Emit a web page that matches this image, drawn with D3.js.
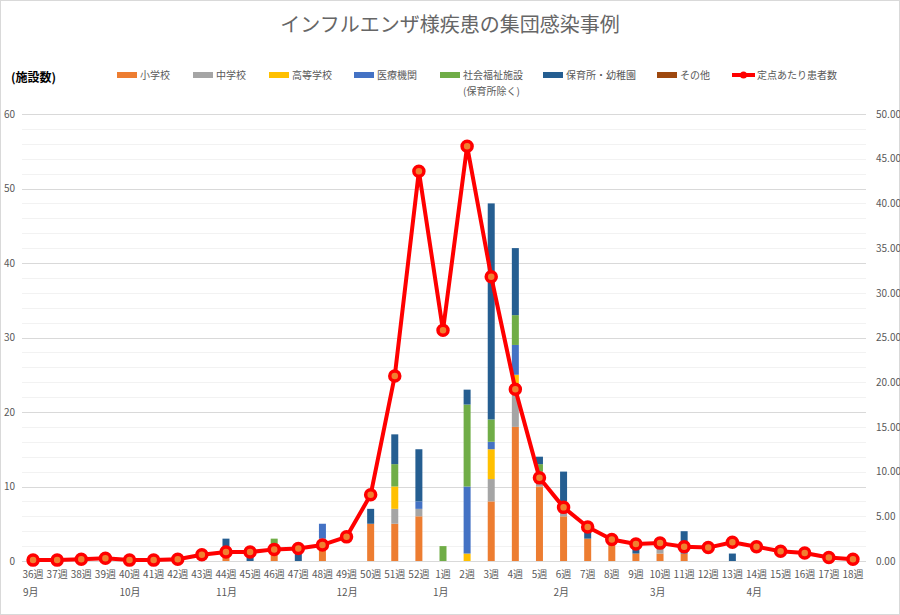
<!DOCTYPE html>
<html>
<head>
<meta charset="utf-8">
<script src="https://cdn.jsdelivr.net/npm/d3@7"></script>
<style>
  body { margin: 0; background: #fff; }
  svg text { font-family: "Noto Sans CJK JP", "Noto Sans", sans-serif; }
</style>
</head>
<body>
<svg id="svg0" width="900" height="615"></svg>
<script>
var weeks = ['36週','37週','38週','39週','40週','41週','42週','43週','44週','45週','46週','47週','48週','49週','50週','51週','52週',
  '1週','2週','3週','4週','5週','6週','7週','8週','9週','10週','11週','12週','13週','14週','15週','16週','17週','18週'];
var monthWeeks = ['36週','40週','44週','49週','1週','6週','10週','14週'];
var monthLabels = ['9月','10月','11月','12月','1月','2月','3月','4月'];

var seriesNames = ['小学校','中学校','高等学校','医療機関','社会福祉施設','保育所・幼稚園','その他'];
var seriesColors = ['#ED7D31','#A5A5A5','#FFC000','#4472C4','#70AD47','#255E91','#9E480E'];

//            36 37 38 39 40 41 42 43 44 45 46 47 48 49 50 51 52  1  2  3  4  5  6  7  8  9 10 11 12 13 14 15 16 17 18
var shogakko = [0, 0, 0, 0, 0, 0, 0, 0, 1, 0, 1, 0, 3, 0, 5, 5, 6, 0, 0, 8,18,10, 6, 3, 3, 1, 1, 1, 0, 0, 0, 0, 0, 0, 0];
var chugakko = [0, 0, 0, 0, 0, 0, 0, 0, 0, 0, 0, 0, 0, 0, 0, 2, 1, 0, 0, 3, 5, 2, 1, 0, 0, 0, 1, 0, 0, 0, 0, 0, 0, 0, 0];
var koto     = [0, 0, 0, 0, 0, 0, 0, 0, 0, 0, 0, 0, 0, 0, 0, 3, 0, 0, 1, 4, 2, 0, 1, 0, 0, 0, 0, 0, 0, 0, 0, 0, 0, 0, 0];
var iryo     = [0, 0, 0, 0, 0, 0, 0, 0, 0, 0, 0, 0, 2, 0, 0, 0, 1, 0, 9, 1, 4, 0, 0, 0, 0, 0, 0, 0, 0, 0, 0, 0, 0, 0, 0];
var fukushi  = [0, 0, 0, 0, 0, 0, 0, 0, 0, 0, 2, 0, 0, 0, 0, 3, 0, 2,11, 3, 4, 1, 0, 0, 0, 0, 0, 0, 0, 0, 0, 0, 0, 0, 0];
var hoikusho = [0, 0, 0, 0, 0, 0, 0, 0, 2, 1, 0, 1, 0, 0, 2, 4, 7, 0, 2,29, 9, 1, 4, 1, 0, 1, 0, 3, 0, 1, 0, 0, 0, 0, 0];
var sonota   = [0, 0, 0, 0, 0, 0, 0, 0, 0, 0, 0, 0, 0, 0, 0, 0, 0, 0, 0, 0, 0, 0, 0, 0, 0, 0, 0, 0, 0, 0, 0, 0, 0, 0, 0];
var teiten   = [0.1,0.1,0.2,0.3,0.1,0.1,0.2,0.7,1.0,1.0,1.3,1.4,1.8,2.7,7.4,20.7,43.6,25.8,46.4,31.8,19.2,9.3,6.0,3.8,2.4,1.9,2.0,1.6,1.5,2.1,1.6,1.1,0.9,0.4,0.2];

var leftTicks = [0,10,20,30,40,50,60];
var rightTicks = [0,5,10,15,20,25,30,35,40,45,50];

var svg0 = d3.select('#svg0');
var W = +svg0.attr('width'), H = +svg0.attr('height');
var gray = '#595959';

svg0.append('rect').attr('x',0.5).attr('y',0.5).attr('width',W-1).attr('height',H-1)
  .attr('fill','#fff').attr('stroke','#D9D9D9');

var x = d3.scaleBand().domain(weeks).range([21,865]).paddingInner(0.71).paddingOuter(0.355);
var y = d3.scaleLinear().domain([0,60]).range([561,114]);
var y2 = d3.scaleLinear().domain([0,50]).range([561,114]);

// grid lines (minor every 2, major every 10)
svg0.append('g').selectAll('line').data(d3.range(0,61,2)).enter().append('line')
  .attr('x1',22).attr('x2',866)
  .attr('y1', d => Math.round(y(d))+0.5).attr('y2', d => Math.round(y(d))+0.5)
  .attr('stroke', d => d%10==0 ? '#D9D9D9' : '#F2F2F2').attr('stroke-width',1);

// left axis
var yAxis = d3.axisLeft(y).tickValues(leftTicks).tickSize(0).tickPadding(0);
var gy = svg0.append('g').attr('transform','translate(15,0)').call(yAxis);
gy.select('.domain').remove();
gy.selectAll('text').attr('fill',gray).style('font-size','10px');

// right axis
var yAxis2 = d3.axisRight(y2).tickValues(rightTicks).tickSize(0).tickPadding(0).tickFormat(d3.format('.2f'));
var gy2 = svg0.append('g').attr('transform','translate(876,0)').call(yAxis2);
gy2.select('.domain').remove();
gy2.selectAll('text').attr('fill',gray).style('font-size','10px');

// x axis
var xAxis = d3.axisBottom(x).tickSize(0).tickPadding(0);
var gx = svg0.append('g').attr('transform','translate(0,571)').call(xAxis);
gx.select('.domain').remove();
gx.selectAll('text').attr('fill',gray).style('font-size','10px');

svg0.append('g').selectAll('text').data(monthLabels).enter().append('text')
  .attr('x', (d,i) => x(monthWeeks[i]) + x.bandwidth()/2 - 10)
  .attr('y', 596).attr('fill',gray).style('font-size','10px').text(d => d);

// stacked bars
var table = weeks.map((w,i) => ({week:w, '小学校':shogakko[i], '中学校':chugakko[i], '高等学校':koto[i],
  '医療機関':iryo[i], '社会福祉施設':fukushi[i], '保育所・幼稚園':hoikusho[i], 'その他':sonota[i]}));
var stacked = d3.stack().keys(seriesNames)(table);

svg0.append('g').selectAll('g').data(stacked).enter().append('g')
  .attr('fill', (d,i) => seriesColors[i])
  .selectAll('rect').data(d => d).enter().append('rect')
  .attr('x', d => x(d.data.week)).attr('width', x.bandwidth())
  .attr('y', d => y(d[1])).attr('height', d => y(d[0]) - y(d[1]));

// line
var cx = w => x(w) + x.bandwidth()/2;
var line = d3.line().x((d,i) => cx(weeks[i])).y(d => y2(d));
svg0.append('path').datum(teiten).attr('d', line)
  .attr('fill','none').attr('stroke','#FF0000').attr('stroke-width',4).attr('stroke-linejoin','round');
svg0.append('g').selectAll('circle').data(teiten).enter().append('circle')
  .attr('cx', (d,i) => cx(weeks[i])).attr('cy', d => y2(d)).attr('r',5)
  .attr('fill','#F08030').attr('stroke','#FF0000').attr('stroke-width',3.5);

// title
svg0.append('text').attr('x',450).attr('y',32).attr('text-anchor','middle')
  .attr('fill','#666').style('font-size','20px').text('インフルエンザ様疾患の集団感染事例');

svg0.append('text').attr('x',11).attr('y',82).attr('fill','#000')
  .style('font-size','12px').style('font-weight','bold').text('(施設数)');

// legend
var legendX = [117,193,269,354,440,543,657];
var lg = svg0.append('g');
seriesNames.forEach((s,i) => {
  lg.append('rect').attr('x',legendX[i]).attr('y',72).attr('width',20).attr('height',6).attr('fill',seriesColors[i]);
  lg.append('text').attr('x',legendX[i]+23).attr('y',79).attr('fill',gray).style('font-size','10px').text(s);
});
lg.append('text').attr('x',463).attr('y',95).attr('fill',gray).style('font-size','10px').text('(保育所除く)');
lg.append('line').attr('x1',732).attr('x2',755).attr('y1',75).attr('y2',75).attr('stroke','#FF0000').attr('stroke-width',4);
lg.append('circle').attr('cx',743.5).attr('cy',75).attr('r',3.5).attr('fill','#FF0000');
lg.append('text').attr('x',757).attr('y',79).attr('fill',gray).style('font-size','10px').text('定点あたり患者数');
</script>
</body>
</html>
